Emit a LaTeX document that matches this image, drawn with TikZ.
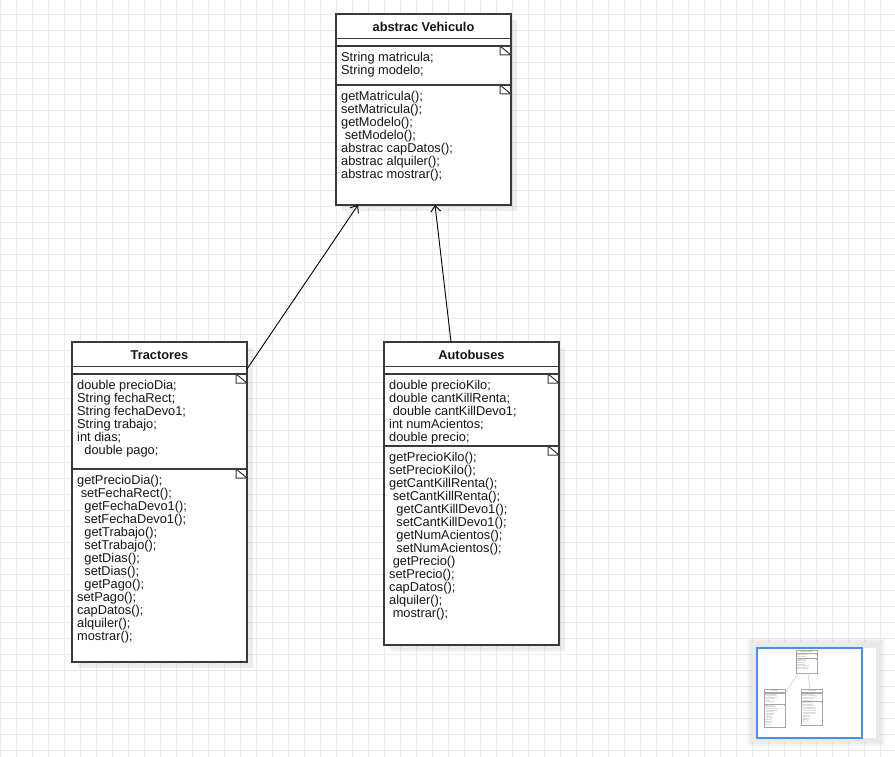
\documentclass[tikz,border=0pt]{standalone}
\usepackage{fontspec}
\setmainfont{Liberation Sans}
\usetikzlibrary{arrows.meta,shadows}

\definecolor{gridc}{HTML}{EBEBEB}
\definecolor{umlline}{HTML}{3A3A3A}
\definecolor{umltext}{HTML}{151515}
\definecolor{navblue}{HTML}{4A8FE7}
\definecolor{navpanel}{HTML}{E9E9E9}

% one leading blank of the member lists
\newcommand\ind{\hspace*{3.6pt}}
% fixed height of the first line of a member list
\newcommand\firstline{\rule{0pt}{10pt}}

\tikzset{
  clsline/.style={draw=umlline, line width=1.2pt},
  foldline/.style={draw=umlline, line width=1pt},
  boxshadow/.style={drop shadow={shadow xshift=6pt, shadow yshift=-6pt, fill=black, opacity=0.07}},
  classbox/.style={clsline, boxshadow, fill=white, rectangle, inner sep=0pt, outer sep=0pt, anchor=north west},
  membertext/.style={anchor=north west, inner sep=0pt, align=left, text=umltext,
    font=\fontsize{12.8}{13}\selectfont},
  headtext/.style={anchor=base, inner sep=0pt, text=umltext,
    font=\fontsize{12.8}{13}\selectfont\bfseries},
  assoc/.style={draw=black, line width=0.9pt, -{Straight Barb[length=6pt,width=10pt]}},
}

% #1 name, #2 top-left corner, #3 height, #4 attribute top, #5 operation top,
% #6 class name, #7 attributes, #8 operations
\newcommand\umlclass[8]{%
  \node[classbox, minimum width=175pt, minimum height=#3pt] (#1) at (#2) {};
  \path (#1.north west) ++(0,24.5) coordinate (#1-ht) ++(175,0) coordinate (#1-he);
  \path (#1.north west) ++(0,#4) coordinate (#1-at) ++(175,0) coordinate (#1-ae);
  \path (#1.north west) ++(0,#5) coordinate (#1-mt) ++(175,0) coordinate (#1-me);
  \draw[clsline] (#1-ht) -- (#1-he);
  \draw[clsline] (#1-at) -- (#1-ae);
  \draw[clsline] (#1-mt) -- (#1-me);
  \draw[foldline] (#1-ae) ++(-11,0) -- ++(0,9) -- ++(11,0) (#1-ae) ++(-11,0) -- ++(11,9);
  \draw[foldline] (#1-me) ++(-11,0) -- ++(0,9) -- ++(11,0) (#1-me) ++(-11,0) -- ++(11,9);
  \path (#1.north) ++(0,17.5) node[headtext] (#1-title) {#6};
  \path (#1-at) ++(5,5) node[membertext] (#1-attrs) {\firstline#7};
  \path (#1-mt) ++(5,5) node[membertext] (#1-ops) {\firstline#8};
}

% the three classes and their generalisations
\newcommand\drawclasses{%
  \umlclass{veh}{336,14}{191}{32}{71}{abstrac Vehiculo}
    {String matricula;\\String modelo;}
    {getMatricula();\\setMatricula();\\getModelo();\\\ind setModelo();\\
     abstrac capDatos();\\abstrac alquiler();\\abstrac mostrar();}
  \umlclass{tra}{72,342}{320}{32}{127}{Tractores}
    {double precioDia;\\String fechaRect;\\String fechaDevo1;\\String trabajo;\\
     int dias;\\\ind\ind double pago;}
    {getPrecioDia();\\\ind setFechaRect();\\\ind\ind getFechaDevo1();\\
     \ind\ind setFechaDevo1();\\\ind\ind getTrabajo();\\\ind\ind setTrabajo();\\
     \ind\ind getDias();\\\ind\ind setDias();\\\ind\ind getPago();\\
     setPago();\\capDatos();\\alquiler();\\mostrar();}
  \umlclass{aut}{384,342}{303}{32}{104}{Autobuses}
    {double precioKilo;\\double cantKillRenta;\\\ind double cantKillDevo1;\\
     int numAcientos;\\double precio;}
    {getPrecioKilo();\\setPrecioKilo();\\getCantKillRenta();\\
     \ind setCantKillRenta();\\\ind\ind getCantKillDevo1();\\
     \ind\ind setCantKillDevo1();\\\ind\ind getNumAcientos();\\
     \ind\ind setNumAcientos();\\\ind getPrecio()\\setPrecio();\\
     capDatos();\\alquiler();\\\ind mostrar();}
  \path (tra.north east) ++(0,27) coordinate (tra-out);
  \path (aut.north west) ++(67,0) coordinate (aut-out);
  \path (veh.south west) ++(22,0) coordinate (veh-in1);
  \path (veh.south west) ++(99,0) coordinate (veh-in2);
  \draw[assoc] (tra-out) -- (veh-in1);
  \draw[assoc] (aut-out) -- (veh-in2);
}

\begin{document}
\begin{tikzpicture}[x=1pt, y=-1pt]
  \useasboundingbox (0,0) rectangle (895,757);
  \clip (0,0) rectangle (895,757);
  \fill[white] (0,0) rectangle (895,757);

  % background grid
  \foreach \gx in {0.5,16.5,...,895}
    \draw[gridc, line width=1pt] (\gx,0) -- (\gx,757);
  \foreach \gy in {-1.5,14.5,...,757}
    \draw[gridc, line width=1pt] (0,\gy) -- (895,\gy);

  \drawclasses

  % outline panel
  \fill[black, opacity=0.03] (747,638) rectangle (885,746);
  \fill[black, opacity=0.04] (749,640) rectangle (883,744);
  \fill[navpanel] (751,642) rectangle (881,742);
  \fill[white] (757,648) rectangle (876,738);
  \begin{scope}[shift={(755.7,648.3)}, scale=0.12, transform shape, name prefix=mini-,
      clsline/.style={draw=gray!70, line width=0.7pt},
      foldline/.style={draw=gray!60, line width=0.4pt},
      boxshadow/.style={},
      assoc/.style={draw=gray!35, line width=0.6pt}]
    \colorlet{umltext}{gray!90}
    \drawclasses
  \end{scope}
  \draw[navblue, line width=1.3pt] (757,648) rectangle (862,738);
\end{tikzpicture}
\end{document}
